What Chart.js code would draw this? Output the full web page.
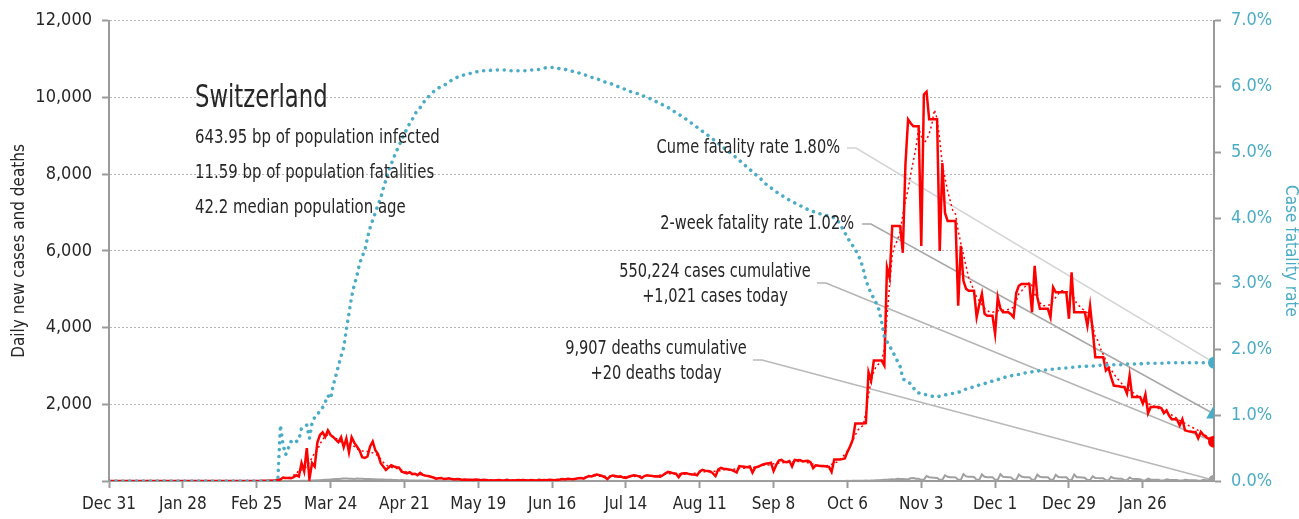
<!DOCTYPE html>
<html>
<head>
<meta charset="utf-8">
<title>Switzerland</title>
<script src="https://cdn.jsdelivr.net/npm/chart.js@4"></script>
<style>
  html, body { margin: 0; padding: 0; background: #fff; }
  #wrap { width: 1299px; height: 519px; position: relative; }
</style>
</head>
<body>
<div id="wrap"><canvas id="covidChart"></canvas></div>
<script>
// x labels, one every 28 days starting Dec 31 2019
const tickLabels = ['Dec 31', 'Jan 28', 'Feb 25', 'Mar 24', 'Apr 21', 'May 19', 'Jun 16',
  'Jul 14', 'Aug 11', 'Sep 8', 'Oct 6', 'Nov 3', 'Dec 1', 'Dec 29', 'Jan 26'];
const tickStep = 28;

// daily new cases, Dec 31 2019 .. Feb 22 2021
const dailyCases = [
  0, 0, 0, 0, 0, 0, 0, 0, 0, 0, 0, 0, 0, 0, 0, 0, 0, 0, 0, 0, 0, 0, 0, 0, 0, 0, 0, 0,
  0, 0, 0, 0, 0, 0, 0, 0, 0, 0, 0, 0, 0, 0, 0, 0, 0, 0, 0, 0, 0, 0, 0, 0, 0, 0, 0, 0,
  1, 1, 7, 8, 6, 6, 10, 20, 30, 40,
  90, 80, 80, 70, 100, 150, 120, 470, 250, 860,
  50, 470, 380, 1000, 1200, 1270, 1150, 1320, 1200, 1150,
  1080, 1010, 1140, 880, 1110, 750, 1140, 1000, 900, 800,
  620, 600, 640, 900, 1030, 800, 700, 470, 380, 290,
  350, 410, 380, 360, 350, 240, 220, 200, 230, 180,
  190, 150, 210, 160, 140, 130, 110, 90, 60, 70,
  80, 50, 60, 70, 50, 40, 50, 45, 30, 40,
  35, 30, 25, 40, 30, 20, 30, 25, 15, 20,
  15, 20, 25, 15, 20, 30, 10, 20, 15, 25,
  20, 25, 20, 15, 25, 20, 10, 30, 20, 25,
  20, 30, 25, 20, 35, 40, 50, 40, 60, 50,
  45, 60, 70, 80, 60, 100, 130, 120, 150, 170,
  150, 130, 100, 50, 120, 140, 130, 110, 120, 90,
  80, 110, 130, 150, 140, 120, 80, 130, 150, 140,
  130, 120, 125, 110, 150, 200, 240, 220, 200, 190,
  100, 190, 200, 200, 180, 170, 170, 150, 250, 290,
  270, 260, 250, 200, 130, 300, 340, 320, 310, 300,
  290, 260, 220, 390, 380, 370, 360, 380, 220, 350,
  370, 400, 430, 450, 460, 475, 260, 420, 530, 550,
  500, 490, 520, 380, 550, 540, 545, 510, 520, 525,
  490, 340, 410, 400, 390, 390, 380, 370, 240, 560,
  560, 560, 570, 590, 760, 900, 1080, 1500, 1500, 1500,
  1500, 1510, 2840, 2620, 3140, 3140, 3140, 3140, 3010, 5570,
  5300, 6650, 6650, 6650, 6650, 5950, 8260, 9430, 9330, 9250,
  9250, 9250, 6130, 10080, 10150, 9430, 9430, 9430, 9430, 6000,
  8290, 6990, 6780, 6780, 6780, 6780, 4570, 6130, 5220, 5010,
  4960, 4960, 4960, 4270, 4600, 4880, 4360, 4310, 4310, 4310,
  3840, 4790, 4500, 4400, 4400, 4400, 4350, 4270, 4900, 5090,
  5140, 5140, 5140, 5140, 4400, 5610, 4800, 4490, 4490, 4490,
  4490, 4270, 5050, 4920, 4920, 4920, 4920, 4920, 4230, 5440,
  4400, 4400, 4400, 4400, 4400, 4050, 4570, 3920, 3230, 3230,
  3230, 3230, 2880, 2950, 2700, 2490, 2480, 2470, 2450, 2450,
  2280, 2750, 2190, 2190, 2190, 2190, 2020, 2260, 1770, 1930,
  1930, 1930, 1930, 1900, 1770, 1840, 1700, 1610, 1610, 1600,
  1450, 1610, 1320, 1300, 1290, 1280, 1280, 1115, 1280, 1200,
  1150, 1100, 1060, 1021
];

// 7-day average of cases (dotted red)
const casesAvg = [
  0, 0, 0, 0, 0, 0, 0, 0, 0, 0, 0, 0, 0, 0, 0, 0, 0, 0, 0, 0, 0, 0, 0, 0, 0, 0, 0, 0,
  0, 0, 0, 0, 0, 0, 0, 0, 0, 0, 0, 0, 0, 0, 0, 0, 0, 0, 0, 0, 0, 0, 0, 0, 0, 0, 0,
  1, 2, 3, 4, 6, 8, 12, 17, 29, 39,
  50, 59, 70, 87, 99, 153, 177, 289, 286, 339,
  371, 497, 601, 747, 789, 970, 1074, 1184, 1196, 1169,
  1150, 1111, 1081, 1017, 1016, 1004, 989, 940, 903, 830,
  814, 780, 784, 770, 756, 734, 703, 653, 574, 486,
  426, 377, 360, 340, 330, 309, 283, 254, 230, 201,
  197, 189, 180, 166, 156, 141, 129, 109, 97, 84,
  74, 69, 63, 60, 57, 52, 49, 46, 41, 39,
  36, 35, 33, 31, 30, 29, 26, 26, 22, 21,
  21, 19, 19, 21, 19, 20, 19, 19, 20, 21,
  19, 20, 21, 21, 19, 21, 20, 21, 21, 22,
  23, 24, 25, 28, 31, 34, 39, 42, 46, 49,
  54, 58, 61, 66, 78, 89, 101, 116, 126, 136,
  136, 124, 124, 123, 117, 111, 110, 109, 113, 111,
  110, 113, 117, 117, 116, 123, 129, 130, 127, 124,
  125, 129, 132, 139, 154, 166, 178, 187, 186, 191,
  191, 186, 180, 176, 173, 180, 189, 201, 211, 223,
  234, 239, 236, 243, 250, 257, 264, 271, 284, 303,
  291, 299, 307, 316, 324, 337, 331, 350, 347, 350,
  359, 371, 383, 419, 406, 414, 432, 449, 456, 461,
  467, 484, 503, 504, 504, 505, 509, 510, 526, 496,
  477, 456, 439, 421, 400, 383, 369, 390, 413, 437,
  463, 493, 549, 620, 690, 780, 900, 1050, 1200, 1330,
  1400, 1450, 1800, 2250, 2620, 2850, 3000, 3060, 3150, 3450,
  4300, 5100, 5900, 6150, 6280, 6500, 6950, 7300, 7600, 8000,
  8350, 8700, 9200, 9000, 8800, 8900, 9050, 9300, 9680, 9450,
  8900, 8250, 7900, 7560, 7300, 7040, 6960, 6520, 6200, 5900,
  5600, 5300, 5140, 4950, 4800, 4700, 4600, 4500, 4450, 4400,
  4400, 4420, 4440, 4440, 4450, 4460, 4470, 4500, 4530, 4700,
  4880, 4950, 5050, 5100, 5180, 5100, 4880, 4750, 4650, 4570,
  4570, 4580, 4600, 4700, 4790, 4880, 4960, 4960, 4940, 4930,
  4900, 4750, 4620, 4560, 4490, 4450, 4380, 4270, 4050, 3750,
  3660, 3450, 3300, 3140, 3000, 2900, 2800, 2700, 2620, 2540,
  2460, 2400, 2360, 2320, 2270, 2220, 2150, 2100, 2060, 2020,
  1990, 1960, 1930, 1890, 1860, 1840, 1800, 1760, 1720, 1680,
  1630, 1580, 1540, 1500, 1460, 1420, 1390, 1360, 1320, 1280,
  1210, 1180, 1150, 1120, 1090
];

// daily new deaths
const dailyDeaths = [
  0, 0, 0, 0, 0, 0, 0, 0, 0, 0, 0, 0, 0, 0, 0, 0, 0, 0, 0, 0, 0, 0, 0, 0, 0, 0, 0, 0,
  0, 0, 0, 0, 0, 0, 0, 0, 0, 0, 0, 0, 0, 0, 0, 0, 0, 0, 0, 0, 0, 0, 0, 0, 0, 0, 0, 0,
  0, 0, 0, 0, 0, 0, 0, 0, 0,
  1, 0, 1, 1, 2, 1, 3, 3, 5, 5,
  8, 5, 10, 15, 20, 18, 25, 30, 35, 40,
  45, 50, 55, 60, 62, 65, 58, 60, 55, 62,
  60, 58, 55, 50, 52, 48, 45, 40, 42, 38,
  35, 30, 32, 28, 25, 22, 25, 20, 18, 15,
  15, 12, 14, 10, 12, 8, 10, 9, 7, 6,
  8, 5, 6, 4, 5, 3, 4, 3, 2, 3,
  2, 2, 1, 2, 1, 1, 2, 1, 0, 1,
  1, 0, 1, 1, 0, 1, 0, 1, 0, 0,
  1, 0, 1, 0, 0, 1, 0, 0, 1, 0,
  0, 1, 0, 0, 1, 0, 0, 1, 0, 0,
  1, 0, 0, 1, 0, 1, 0, 0, 1, 0,
  0, 1, 0, 1, 0, 0, 1, 0, 0, 1,
  0, 1, 0, 0, 1, 0, 0, 1, 0, 1,
  0, 0, 1, 0, 1, 0, 0, 1, 0, 0,
  1, 0, 1, 0, 0, 1, 0, 0, 1, 0,
  1, 0, 0, 1, 0, 1, 0, 1, 0, 0,
  1, 0, 1, 0, 1, 1, 0, 1, 1, 0,
  1, 2, 1, 1, 2, 1, 0, 2, 1, 2,
  1, 2, 1, 1, 2, 0, 3, 1, 2, 1,
  2, 1, 0, 3, 2, 1, 2, 2, 1, 0,
  3, 2, 2, 3, 2, 4, 3, 4, 5, 4,
  6, 8, 10, 7, 12, 15, 18, 20, 25, 30,
  35, 40, 45, 40, 60, 55, 50, 45, 40, 70,
  80, 60, 60, 30, 30, 130, 100, 90, 85, 80,
  30, 30, 150, 110, 100, 100, 95, 30, 30, 180,
  120, 110, 110, 105, 30, 30, 170, 110, 100, 100,
  100, 30, 30, 175, 110, 105, 100, 95, 30, 30,
  170, 115, 100, 100, 100, 30, 30, 165, 110, 100,
  95, 95, 30, 30, 160, 105, 100, 95, 95, 25,
  25, 170, 100, 95, 90, 85, 25, 25, 120, 80,
  75, 70, 70, 20, 20, 110, 70, 65, 60, 60,
  20, 20, 90, 55, 50, 50, 45, 15, 15, 60,
  40, 35, 35, 30, 10, 10, 45, 30, 28, 25,
  25, 10, 10, 35, 25, 22, 20, 20, 8, 8,
  30, 22, 20, 20, 20
];

// cumulative case fatality rate, percent (right axis)
const fatalityRate = [
  0, 0, 0, 0, 0, 0, 0, 0, 0, 0, 0, 0, 0, 0, 0, 0, 0, 0, 0, 0, 0, 0, 0, 0, 0, 0, 0, 0,
  0, 0, 0, 0, 0, 0, 0, 0, 0, 0, 0, 0, 0, 0, 0, 0, 0, 0, 0, 0, 0, 0, 0, 0, 0, 0, 0, 0,
  0, 0, 0, 0, 0, 0, 0, 0, 0,
  0.85, 0.55, 0.40, 0.50, 0.60, 0.57, 0.60, 0.62, 0.80, 0.82,
  0.85, 0.65, 0.88, 0.97, 1.00, 1.08, 1.12, 1.20, 1.30, 1.25,
  1.45, 1.60, 1.75, 1.90, 2.03, 2.30, 2.55, 2.80, 2.98, 3.12,
  3.30, 3.42, 3.50, 3.70, 3.85, 3.97, 4.08, 4.20, 4.30, 4.45,
  4.58, 4.72, 4.82, 4.92, 5.02, 5.10, 5.20, 5.28, 5.36, 5.44,
  5.50, 5.58, 5.64, 5.68, 5.74, 5.80, 5.84, 5.88, 5.92, 5.95,
  5.98, 6.00, 6.02, 6.04, 6.07, 6.10, 6.12, 6.14, 6.15, 6.17,
  6.18, 6.19, 6.20, 6.21, 6.22, 6.23, 6.23, 6.24, 6.24, 6.24,
  6.25, 6.25, 6.25, 6.25, 6.25, 6.25, 6.25, 6.24, 6.24, 6.24,
  6.24, 6.24, 6.24, 6.24, 6.25, 6.25, 6.25, 6.26, 6.26, 6.27,
  6.28, 6.29, 6.29, 6.29, 6.29, 6.28, 6.27, 6.26, 6.26, 6.25,
  6.24, 6.23, 6.22, 6.21, 6.19, 6.18, 6.17, 6.15, 6.14, 6.13,
  6.12, 6.10, 6.09, 6.07, 6.06, 6.05, 6.03, 6.01, 6.00, 5.98,
  5.97, 5.95, 5.93, 5.92, 5.91, 5.90, 5.88, 5.87, 5.85, 5.84,
  5.82, 5.80, 5.78, 5.76, 5.74, 5.72, 5.70, 5.68, 5.66, 5.63,
  5.60, 5.58, 5.55, 5.52, 5.50, 5.47, 5.44, 5.41, 5.38, 5.35,
  5.32, 5.29, 5.26, 5.23, 5.20, 5.17, 5.14, 5.10, 5.07, 5.04,
  5.01, 4.98, 4.95, 4.91, 4.88, 4.84, 4.81, 4.77, 4.74, 4.70,
  4.67, 4.63, 4.60, 4.56, 4.52, 4.49, 4.46, 4.43, 4.40, 4.37,
  4.35, 4.32, 4.30, 4.27, 4.25, 4.23, 4.21, 4.19, 4.17, 4.15,
  4.13, 4.11, 4.10, 4.08, 4.07, 4.06, 4.05, 4.04, 4.03, 4.02,
  4.00, 3.97, 3.92, 3.85, 3.78, 3.70, 3.64, 3.58, 3.52, 3.44,
  3.36, 3.22, 3.05, 2.95, 2.85, 2.78, 2.70, 2.60, 2.41, 2.19,
  2.12, 2.05, 1.98, 1.90, 1.82, 1.74, 1.56, 1.52, 1.50, 1.48,
  1.42, 1.36, 1.34, 1.33, 1.32, 1.31, 1.30, 1.29, 1.28, 1.28,
  1.29, 1.30, 1.31, 1.32, 1.33, 1.33, 1.34, 1.35, 1.36, 1.38,
  1.40, 1.41, 1.42, 1.44, 1.45, 1.46, 1.47, 1.48, 1.50, 1.51,
  1.52, 1.53, 1.54, 1.56, 1.57, 1.58, 1.59, 1.60, 1.61, 1.62,
  1.62, 1.63, 1.64, 1.65, 1.65, 1.66, 1.66, 1.67, 1.68, 1.68,
  1.69, 1.69, 1.70, 1.70, 1.71, 1.71, 1.71, 1.72, 1.72, 1.72,
  1.73, 1.73, 1.73, 1.74, 1.74, 1.74, 1.75, 1.75, 1.75, 1.75,
  1.76, 1.76, 1.76, 1.76, 1.77, 1.77, 1.77, 1.77, 1.77, 1.77,
  1.78, 1.78, 1.78, 1.78, 1.78, 1.78, 1.78, 1.79, 1.79, 1.79,
  1.79, 1.79, 1.79, 1.79, 1.79, 1.79, 1.80, 1.80, 1.80, 1.80,
  1.80, 1.80, 1.80, 1.80, 1.80, 1.80, 1.80, 1.80, 1.80, 1.80,
  1.80, 1.80, 1.80, 1.80, 1.80
];

const twoWeekRate = 1.02; // 2-week fatality rate, percent

const RED = '#ff0000';
const BLUE = '#4bacc6';
const GREY = '#a0a0a0';
const TEXT = '#262626';
const FONT = "'DejaVu Sans Condensed', 'Liberation Sans Narrow', Roboto, sans-serif";
const SQUEEZE = 0.83; // the original face is a narrow one

const last = dailyCases.length - 1;
const toPoints = (arr) => arr.map((v, i) => ({ x: i, y: v }));
const endDot = (r) => (ctx) => ctx.dataIndex === last ? r : 0;

// callouts: label text + leader line to the end marker
const notes = [
  { lines: ['Cume fatality rate 1.80%'], align: 'right', tx: 840, ty: 148,
    lx: 847, ly: 148, axis: 'y1', value: fatalityRate[last], color: '#d4d4d4' },
  { lines: ['2-week fatality rate 1.02%'], align: 'right', tx: 854, ty: 224,
    lx: 862, ly: 224, axis: 'y1', value: twoWeekRate, color: '#a8a8a8' },
  { lines: ['550,224 cases cumulative', '+1,021 cases today'], align: 'center', tx: 715, ty: 272,
    lx: 817, ly: 283, axis: 'y', value: dailyCases[last], color: '#b4b4b4' },
  { lines: ['9,907 deaths cumulative', '+20 deaths today'], align: 'center', tx: 656, ty: 349,
    lx: 753, ly: 360, axis: 'y', value: dailyDeaths[last], color: '#b8b8b8' }
];

function narrowText(ctx, text, x, y, align, squeeze) {
  ctx.save();
  ctx.translate(x, y);
  ctx.scale(squeeze, 1);
  ctx.textAlign = align;
  ctx.fillText(text, 0, 0);
  ctx.restore();
}

const notesPlugin = {
  id: 'notes',
  beforeDatasetsDraw(chart) {
    const { ctx, scales } = chart;
    const xEnd = scales.x.getPixelForValue(last);
    notes.forEach(n => {
      const yEnd = scales[n.axis].getPixelForValue(n.value);
      ctx.save();
      ctx.strokeStyle = n.color;
      ctx.lineWidth = 1.6;
      ctx.beginPath();
      ctx.moveTo(n.lx, n.ly);
      ctx.lineTo(n.lx + 9, n.ly);
      ctx.lineTo(xEnd, yEnd);
      ctx.stroke();
      ctx.restore();
    });
  },
  afterDraw(chart) {
    const ctx = chart.ctx;
    ctx.save();
    ctx.fillStyle = TEXT;
    ctx.textBaseline = 'alphabetic';
    ctx.font = '32px ' + FONT;
    narrowText(ctx, 'Switzerland', 195, 107, 'left', 0.79);
    ctx.font = '20px ' + FONT;
    narrowText(ctx, '643.95 bp of population infected', 195, 143, 'left', SQUEEZE);
    narrowText(ctx, '11.59 bp of population fatalities', 195, 178, 'left', SQUEEZE);
    narrowText(ctx, '42.2 median population age', 195, 213, 'left', SQUEEZE);

    ctx.textBaseline = 'middle';
    notes.forEach(n => {
      n.lines.forEach((t, i) => narrowText(ctx, t, n.tx, n.ty + i * 25, n.align, 0.81));
    });
    ctx.restore();
  }
};

Chart.defaults.font.family = FONT;
Chart.defaults.color = TEXT;

const ctx = document.getElementById('covidChart').getContext('2d');

const covidChart = new Chart(ctx, {
  type: 'line',
  data: {
    datasets: [
      {
        label: 'Case fatality rate',
        data: toPoints(fatalityRate),
        yAxisID: 'y1',
        borderColor: BLUE,
        borderWidth: 3.5,
        borderDash: [0.1, 6.8],
        borderCapStyle: 'round',
        pointRadius: endDot(6),
        pointBackgroundColor: BLUE,
        pointBorderWidth: 0
      },
      {
        label: '2-week fatality rate',
        data: [{ x: last, y: twoWeekRate }],
        yAxisID: 'y1',
        showLine: false,
        pointStyle: 'triangle',
        pointRadius: 9,
        pointBackgroundColor: BLUE,
        pointBorderColor: BLUE,
        pointBorderWidth: 0
      },
      {
        label: 'Daily cases',
        data: toPoints(dailyCases),
        yAxisID: 'y',
        borderColor: RED,
        borderWidth: 2.5,
        pointRadius: endDot(6),
        pointBackgroundColor: RED,
        pointBorderWidth: 0
      },
      {
        label: 'Cases 7-day average',
        data: toPoints(casesAvg),
        yAxisID: 'y',
        borderColor: RED,
        borderWidth: 1.5,
        borderDash: [2, 3],
        pointRadius: 0
      },
      {
        label: 'Daily deaths',
        data: toPoints(dailyDeaths),
        yAxisID: 'y',
        borderColor: GREY,
        borderWidth: 2,
        pointRadius: endDot(5.5),
        pointBackgroundColor: GREY,
        pointBorderWidth: 0
      }
    ]
  },
  options: {
    responsive: true,
    maintainAspectRatio: false,
    animation: false,
    layout: { padding: { top: 19 } },
    elements: { line: { tension: 0 } },
    plugins: {
      legend: { display: false },
      tooltip: { enabled: false }
    },
    scales: {
      x: {
        type: 'linear',
        min: 0,
        max: last,
        afterBuildTicks: (scale) => {
          scale.ticks = tickLabels.map((_, i) => ({ value: i * tickStep }));
        },
        afterFit: (scale) => { scale.height = 38; },
        ticks: {
          autoSkip: false,
          maxRotation: 0,
          padding: 6,
          font: { size: 17 },
          color: TEXT,
          callback: (v) => tickLabels[v / tickStep]
        },
        grid: {
          drawOnChartArea: false,
          drawTicks: true,
          tickLength: 7,
          tickColor: '#9a9a9a',
          tickWidth: 2
        },
        border: { color: '#9a9a9a', width: 2 }
      },
      y: {
        position: 'left',
        min: 0,
        max: 12000,
        afterFit: (scale) => { scale.width = 109; },
        ticks: {
          stepSize: 2000,
          padding: 10,
          font: { size: 18 },
          color: TEXT,
          callback: (v) => v === 0 ? '' : v.toLocaleString('en-US')
        },
        grid: {
          color: '#b5b5b5',
          lineWidth: 1,
          tickLength: 7,
          tickColor: '#9a9a9a',
          tickWidth: 2,
          tickBorderDash: []
        },
        border: { color: '#9a9a9a', width: 2, dash: [2, 2] },
        title: {
          display: true,
          text: 'Daily new cases and deaths',
          font: { size: 17, lineHeight: 1 },
          color: TEXT,
          padding: { top: 11, bottom: 0 }
        }
      },
      y1: {
        position: 'right',
        min: 0,
        max: 7,
        afterFit: (scale) => { scale.width = 85; },
        ticks: {
          stepSize: 1,
          padding: 10,
          font: { size: 18 },
          color: BLUE,
          callback: (v) => v.toFixed(1) + '%'
        },
        grid: {
          drawOnChartArea: false,
          tickLength: 7,
          tickColor: '#9a9a9a',
          tickWidth: 2
        },
        border: { color: '#9a9a9a', width: 2 },
        title: {
          display: true,
          text: 'Case fatality rate',
          font: { size: 17, lineHeight: 1 },
          color: BLUE,
          padding: { top: 0, bottom: 0 }
        }
      }
    }
  },
  plugins: [notesPlugin]
});
</script>
</body>
</html>
